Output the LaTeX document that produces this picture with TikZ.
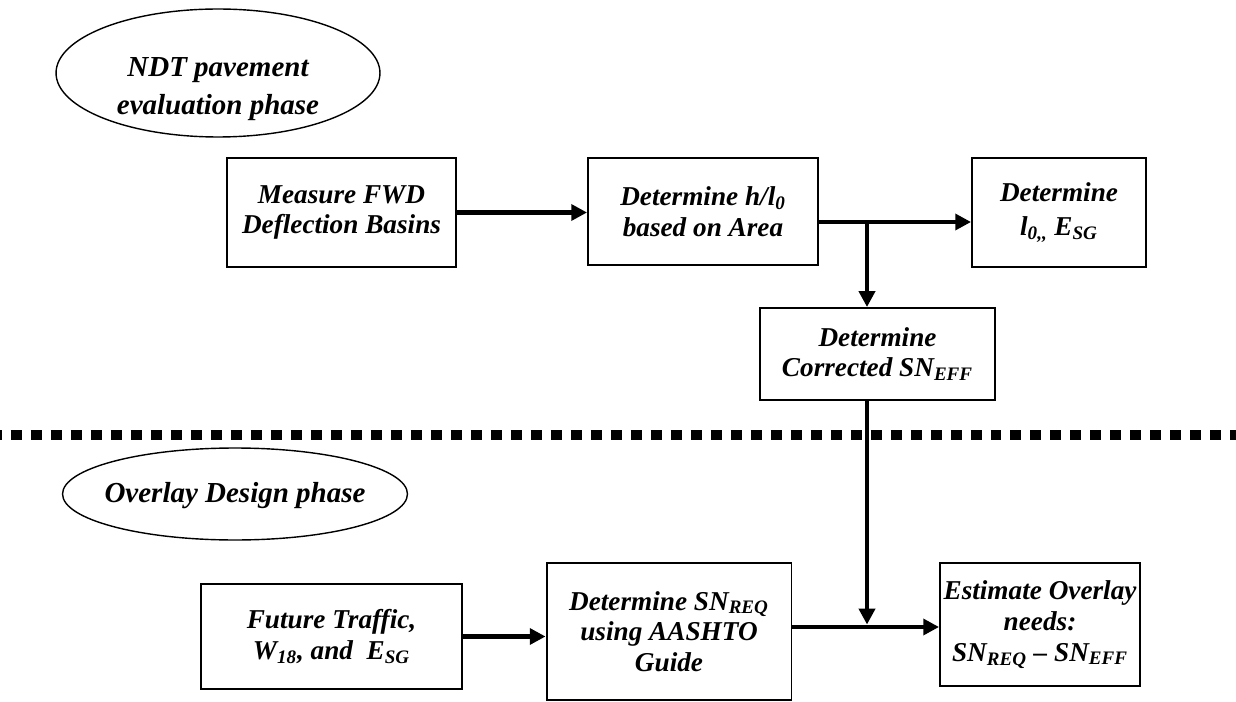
\documentclass[tikz,border=0pt]{standalone}
\usepackage{fontspec}
\setmainfont{Liberation Serif}
\usetikzlibrary{arrows.meta,shapes.geometric}
\newcommand{\boxfont}{\fontsize{15.5}{17.5}\selectfont\bfseries\itshape}
\newcommand{\phasefont}{\fontsize{16.5}{22}\selectfont\bfseries\itshape}
\tikzset{
  stepbox/.style={draw, line width=1.1pt, align=center, font=\boxfont, inner sep=1pt},
  phase/.style={draw, ellipse, line width=0.8pt, inner sep=0pt},
  phasetext/.style={align=center, font=\phasefont, inner sep=0pt},
  flow/.style={line width=2.8pt, -{Triangle[length=9pt,width=9pt]}},
  divider/.style={line width=0.2cm, dash pattern=on 0.22cm off 0.18cm, dash phase=0.186cm}
}

\begin{document}
\begin{tikzpicture}[x=0.02cm, y=-0.02cm]
  \useasboundingbox (0,0) rectangle (1236,702);

  %%%%% NDT PHASE %%%%%
  \node[phase, minimum width=6.48cm, minimum height=2.56cm] (ndt) at (218,73) {};
  \node[phasetext] (ndtlabel) at (218,89) {NDT pavement\\evaluation phase};

  \node[stepbox, minimum width=4.58cm, minimum height=2.18cm] (meas) at (341.5,212.5) {Measure FWD\\Deflection Basins};
  \node[stepbox, minimum width=4.6cm, minimum height=2.14cm] (hlo) at (703,211.5) {Determine h/l\textsubscript{0}\\based on Area};
  \node[stepbox, minimum width=3.48cm, minimum height=2.18cm] (lo) at (1059,212.5) {Determine\\[2pt]l\textsubscript{0,\kern0pt,} E\textsubscript{SG}};
  \node[stepbox, minimum width=4.7cm, minimum height=1.84cm] (sneff) at (877.5,354) {Determine\\Corrected SN\textsubscript{EFF}};

  \coordinate (split) at (867,222);
  \draw[flow] (meas.east) -- (meas.east -| hlo.west);
  \draw[flow] (hlo.east |- split) -- (lo.west |- split);
  \draw[flow] (split) -- (split |- sneff.north);

  %%%%% DIVIDER %%%%%
  \draw[divider] (0,435) -- (1236,435);

  %%%%% OVERLAY PHASE %%%%%
  \node[phase, minimum width=6.9cm, minimum height=1.84cm] (ovl) at (235,494) {};
  \node[phasetext] (ovllabel) at (235,496) {Overlay Design phase};

  \node[stepbox, minimum width=5.22cm, minimum height=2.1cm] (fut) at (331.5,636.5) {Future Traffic,\\W\textsubscript{18}, and~ E\textsubscript{SG}};
  \node[stepbox, minimum width=4.9cm, minimum height=2.74cm] (snreq) at (669,631.5) {Determine SN\textsubscript{REQ}\\using AASHTO\\Guide};
  \node[stepbox, minimum width=4.0cm, minimum height=2.46cm] (est) at (1040,624.5) {Estimate Overlay\\needs:\\SN\textsubscript{REQ} -- SN\textsubscript{EFF}};

  \coordinate (join) at (867,627);
  \draw[flow] (fut.east) -- (fut.east -| snreq.west);
  \draw[flow] (snreq.east |- join) -- (est.west |- join);
  \draw[flow, shorten >=1.4pt] (sneff.south -| join) -- (join);
\end{tikzpicture}
\end{document}
